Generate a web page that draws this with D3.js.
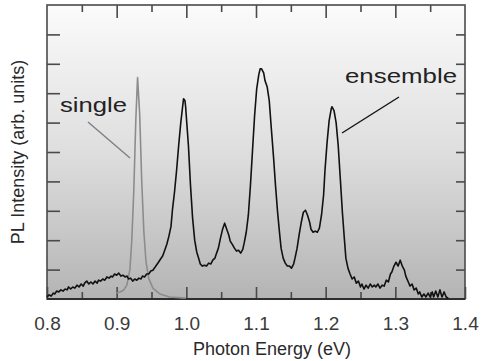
<!DOCTYPE html>
<html>
<head>
<meta charset="utf-8">
<script src="https://cdn.jsdelivr.net/npm/d3@7"></script>
<style>
  html, body { margin: 0; padding: 0; background: #fff; }
  svg { display: block; font-family: "Liberation Sans", Arial, sans-serif; }
</style>
</head>
<body>
<svg id="chart" width="484" height="361"></svg>
<script>
// Photoluminescence spectra: quantum-dot ensemble vs. a single dot
const ensembleEnergy = [
  0.800,0.803,0.806,0.809,0.811,0.814,0.817,0.820,0.823,0.826,0.829,0.831,0.834,0.837,0.840,0.843,0.846,0.849,0.852,0.854,
  0.857,0.860,0.863,0.866,0.869,0.872,0.874,0.877,0.880,0.883,0.886,0.889,0.892,0.894,0.897,0.900,0.903,0.906,0.909,0.912,
  0.915,0.917,0.920,0.923,0.926,0.929,0.932,0.935,0.937,0.940,0.943,0.946,0.949,0.952,0.955,0.957,0.960,0.963,0.966,0.969,
  0.972,0.975,0.978,0.980,0.983,0.986,0.989,0.992,0.995,0.996,0.998,0.999,1.000,1.003,1.006,1.009,1.012,1.015,1.018,1.020,
  1.023,1.026,1.029,1.032,1.035,1.038,1.041,1.043,1.046,1.049,1.052,1.055,1.058,1.061,1.063,1.066,1.069,1.072,1.075,1.078,
  1.081,1.083,1.086,1.089,1.092,1.095,1.098,1.101,1.104,1.106,1.108,1.111,1.113,1.116,1.119,1.122,1.125,1.128,1.131,1.134,
  1.136,1.139,1.142,1.145,1.148,1.151,1.154,1.156,1.159,1.162,1.165,1.168,1.171,1.174,1.177,1.179,1.182,1.185,1.188,1.191,
  1.194,1.197,1.199,1.202,1.205,1.208,1.209,1.212,1.215,1.218,1.221,1.224,1.227,1.229,1.232,1.235,1.238,1.241,1.244,1.247,
  1.250,1.252,1.255,1.258,1.261,1.264,1.267,1.270,1.272,1.275,1.278,1.281,1.284,1.287,1.290,1.293,1.295,1.298,1.301,1.304,
  1.307,1.310,1.313,1.315,1.318,1.321,1.324,1.327,1.330,1.333,1.335,1.338,1.341,1.344,1.347,1.350,1.353,1.355,1.358,1.361,
  1.364,1.367,1.370,1.373,1.376
];
const ensembleIntensity = [
  0.07,0.14,0.10,0.20,0.17,0.27,0.24,0.31,0.27,0.34,0.31,0.41,0.34,0.41,0.37,0.47,0.41,0.51,0.44,0.54,
  0.61,0.51,0.58,0.51,0.61,0.54,0.64,0.61,0.68,0.64,0.75,0.71,0.78,0.75,0.85,0.81,0.88,0.78,0.81,0.75,
  0.78,0.68,0.71,0.61,0.68,0.64,0.71,0.68,0.78,0.75,0.85,0.85,0.95,0.98,1.08,1.15,1.25,1.36,1.46,1.66,
  1.86,2.14,2.47,3.02,3.63,4.37,5.22,5.99,6.61,6.81,6.75,6.54,6.20,5.22,3.86,2.75,2.00,1.59,1.36,1.19,
  1.12,1.15,1.12,1.22,1.19,1.32,1.39,1.53,1.73,2.07,2.37,2.58,2.37,2.17,1.97,1.86,1.73,1.63,1.66,1.56,
  1.69,1.90,2.27,2.85,3.86,5.05,6.24,7.15,7.63,7.83,7.83,7.69,7.42,7.22,6.75,5.80,4.88,3.86,2.95,2.20,
  1.73,1.39,1.22,1.12,1.12,1.05,1.19,1.39,1.73,2.20,2.61,2.95,3.02,2.85,2.61,2.37,2.27,2.31,2.27,2.41,
  2.85,3.53,4.37,5.32,6.07,6.47,6.54,6.41,6.00,5.22,4.10,2.95,2.00,1.39,1.05,0.85,0.68,0.75,0.54,0.61,
  0.41,0.51,0.34,0.47,0.37,0.51,0.41,0.47,0.41,0.51,0.37,0.47,0.44,0.64,0.58,0.85,0.92,1.12,1.25,1.12,
  1.32,1.12,0.98,0.78,0.61,0.44,0.51,0.31,0.37,0.17,0.24,0.07,0.17,0.07,0.20,0.07,0.24,0.07,0.27,0.07,
  0.31,0.07,0.24,0.07,0.03
];

const singleEnergy = [0.900,0.9045,0.910,0.9146,0.919,0.9217,0.9246,0.9275,0.930,0.933,0.936,0.939,0.942,0.946,0.952,0.962,0.976,0.999];
const singleIntensity = [0.20,0.24,0.30,0.47,1.00,2.00,3.70,6.10,7.53,6.30,4.00,2.30,1.30,0.70,0.37,0.17,0.07,0.03];

const xMajorTicks = [0.8, 0.9, 1.0, 1.1, 1.2, 1.3, 1.4];
const xMinorTicks = [0.85, 0.95, 1.05, 1.15, 1.25, 1.35];
const yTicks = [1, 2, 3, 4, 5, 6, 7, 8, 9];

const xTitle = "Photon Energy (eV)";
const yTitle = "PL Intensity (arb. units)";

const svg = d3.select("#chart");
const plot = { left: 47, right: 465, top: 5, bottom: 299 };

const x = d3.scaleLinear().domain([0.8, 1.4]).range([plot.left, plot.right]);
const y = d3.scaleLinear().domain([0, 10]).range([plot.bottom, plot.top]);

// vertical grey wash behind the spectra
const defs = svg.append("defs");
const grad = defs.append("linearGradient")
  .attr("id", "bgFade").attr("x1", 0).attr("y1", 0).attr("x2", 0).attr("y2", 1);
grad.append("stop").attr("offset", "0%").attr("stop-color", "#fbfbfb");
grad.append("stop").attr("offset", "50%").attr("stop-color", "#dedede");
grad.append("stop").attr("offset", "100%").attr("stop-color", "#b4b4b4");

svg.append("rect")
  .attr("x", plot.left).attr("y", plot.top)
  .attr("width", plot.right - plot.left).attr("height", plot.bottom - plot.top)
  .attr("fill", "url(#bgFade)");

const axisColor = "#4a4a4a";
function styleAxis(g) {
  g.select(".domain").remove();
  g.selectAll(".tick line").attr("stroke", axisColor).attr("stroke-width", 1.6);
}

// bottom axis with labels, ticks pointing inward
svg.append("g")
  .attr("transform", `translate(0,${plot.bottom})`)
  .call(d3.axisBottom(x).tickValues(xMajorTicks).tickSize(-12).tickPadding(18)
    .tickFormat(d3.format(".1f")))
  .call(styleAxis)
  .call(g => g.selectAll(".tick text")
    .attr("fill", "#3a3a3a").attr("font-size", 19)
    .attr("font-family", "'Liberation Sans', Arial, sans-serif"));

svg.append("g")
  .attr("transform", `translate(0,${plot.bottom})`)
  .call(d3.axisBottom(x).tickValues(xMinorTicks).tickSize(-7).tickFormat(""))
  .call(styleAxis);

// top axis ticks
svg.append("g")
  .attr("transform", `translate(0,${plot.top})`)
  .call(d3.axisTop(x).tickValues(xMajorTicks.slice(1, -1)).tickSize(-13).tickFormat(""))
  .call(styleAxis);
svg.append("g")
  .attr("transform", `translate(0,${plot.top})`)
  .call(d3.axisTop(x).tickValues(xMinorTicks).tickSize(-7).tickFormat(""))
  .call(styleAxis);

// left and right ticks
svg.append("g")
  .attr("transform", `translate(${plot.left},0)`)
  .call(d3.axisLeft(y).tickValues(yTicks).tickSize(-13).tickFormat(""))
  .call(styleAxis);
svg.append("g")
  .attr("transform", `translate(${plot.right},0)`)
  .call(d3.axisRight(y).tickValues(yTicks).tickSize(-9).tickFormat(""))
  .call(styleAxis);

// plot frame
svg.append("rect")
  .attr("x", plot.left).attr("y", plot.top)
  .attr("width", plot.right - plot.left).attr("height", plot.bottom - plot.top)
  .attr("fill", "none").attr("stroke", axisColor).attr("stroke-width", 1.6);
svg.append("line")
  .attr("x1", plot.left).attr("x2", plot.right)
  .attr("y1", plot.bottom).attr("y2", plot.bottom)
  .attr("stroke", "#2e2e2e").attr("stroke-width", 2.2);

const line = d3.line().x(d => x(d[0])).y(d => y(d[1]));

// single-dot spectrum (grey)
svg.append("path")
  .datum(d3.zip(singleEnergy, singleIntensity))
  .attr("d", line)
  .attr("fill", "none").attr("stroke", "#8c8c8c").attr("stroke-width", 1.6)
  .attr("stroke-linejoin", "round");

// ensemble spectrum (black)
svg.append("path")
  .datum(d3.zip(ensembleEnergy, ensembleIntensity))
  .attr("d", line)
  .attr("fill", "none").attr("stroke", "#111").attr("stroke-width", 1.6)
  .attr("stroke-linejoin", "round");

// annotations
svg.append("line")
  .attr("x1", 88).attr("y1", 122).attr("x2", 130).attr("y2", 158)
  .attr("stroke", "#808080").attr("stroke-width", 1.4);
svg.append("text")
  .attr("x", 60).attr("y", 112)
  .attr("font-size", 21).attr("fill", "#222")
  .attr("textLength", 67).attr("lengthAdjust", "spacingAndGlyphs")
  .text("single");

svg.append("line")
  .attr("x1", 399).attr("y1", 97).attr("x2", 342).attr("y2", 133)
  .attr("stroke", "#111").attr("stroke-width", 1.4);
svg.append("text")
  .attr("x", 345).attr("y", 83)
  .attr("font-size", 21).attr("fill", "#222")
  .attr("textLength", 112).attr("lengthAdjust", "spacingAndGlyphs")
  .text("ensemble");

// axis titles
svg.append("text")
  .attr("x", (plot.left + plot.right) / 2 + 16).attr("y", 355)
  .attr("text-anchor", "middle").attr("font-size", 18).attr("fill", "#2a2a2a")
  .text(xTitle);

svg.append("text")
  .attr("transform", `translate(24,${(plot.top + plot.bottom) / 2}) rotate(-90)`)
  .attr("text-anchor", "middle").attr("font-size", 18).attr("fill", "#2a2a2a")
  .text(yTitle);
</script>
</body>
</html>
